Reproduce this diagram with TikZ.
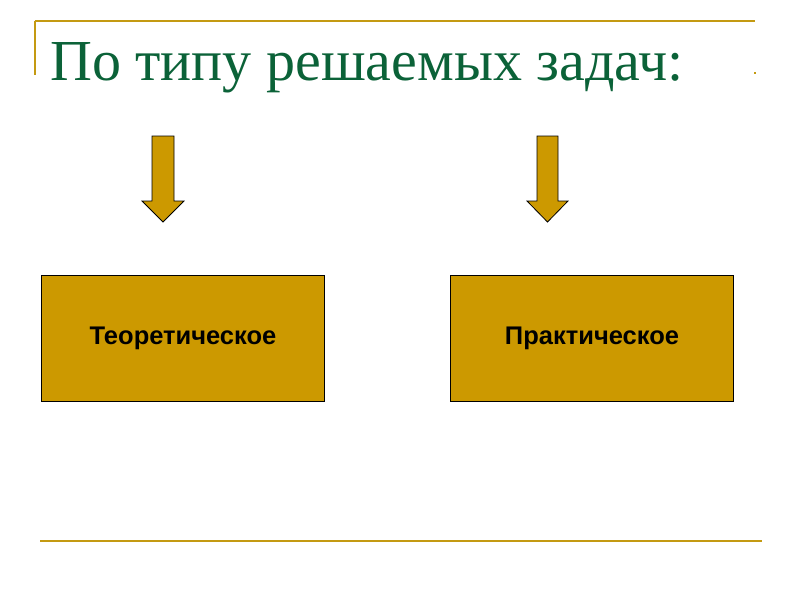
\documentclass[tikz,border=0pt]{standalone}
\usepackage{fontspec}
\setmainfont{Liberation Serif}
\newfontfamily\boxfont{Liberation Sans}
\definecolor{gold}{HTML}{CC9900}
\definecolor{linegold}{HTML}{C49A12}
\definecolor{titlegreen}{HTML}{0B6238}
\begin{document}
\begin{tikzpicture}[x=1pt,y=-1pt,
  boxstyle/.style={draw=black,line width=1pt,fill=gold,minimum width=283pt,minimum height=126pt,inner sep=0pt,font=\boxfont\bfseries\fontsize{25.5}{28}\selectfont},
  blockarrow/.style={draw=black,line width=0.8pt,fill=gold},
  rule/.style={draw=linegold,line width=2pt}]
\useasboundingbox (0,0) rectangle (800,600);
% decorative rules
\draw[rule] (35,21) -- (755,21);
\draw[rule] (35,21) -- (35,75);
\fill[linegold] (754,72) rectangle (756,74);
\draw[rule] (40,541) -- (762,541);
% title
\node[anchor=base west,inner sep=0pt,text=titlegreen,font=\fontsize{58}{64}\selectfont] (title) at (50,80) {По типу решаемых задач:};
% arrows
\draw[blockarrow] (152,136) -- (174,136) -- (174,201) -- (184,201) -- (163,222) -- (142,201) -- (152,201) -- cycle;
\draw[blockarrow] (537,136) -- (558,136) -- (558,201) -- (568,201) -- (547.5,222) -- (527,201) -- (537,201) -- cycle;
% boxes
\node[boxstyle] (theor) at (183,338) {Теоретическое};
\node[boxstyle] (pract) at (592,338) {Практическое};
\end{tikzpicture}
\end{document}
